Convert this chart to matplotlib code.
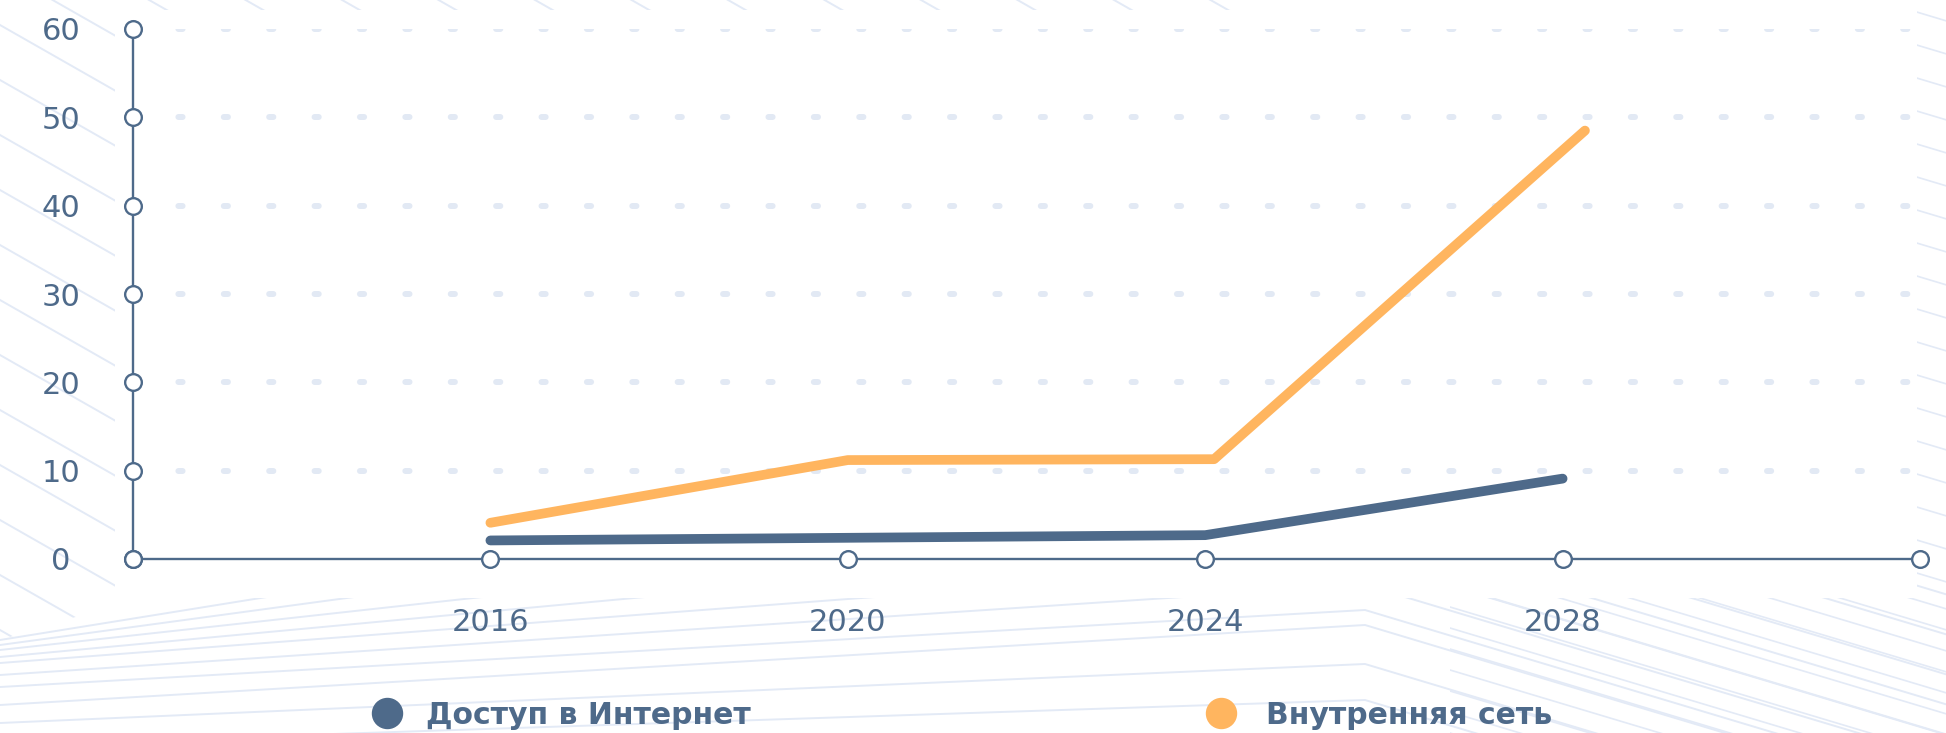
import matplotlib
matplotlib.use('Agg')
import matplotlib.pyplot as plt
from matplotlib.patches import Rectangle, Polygon
import numpy as np

# data
years = [2016, 2020, 2024, 2028]
internet = [2.1, 2.4, 2.7, 9.1]
intranet_years = [2016, 2020, 2024.1, 2028.25]
intranet = [4.1, 11.2, 11.3, 48.5]
series_names = ['Доступ в Интернет', 'Внутренняя сеть']

y_ticks = [0, 10, 20, 30, 40, 50, 60]
x_ticks = [2016, 2020, 2024, 2028]
axis_marks = [2012, 2016, 2020, 2024, 2028, 2032]

palette = {"blue": "#4E6A8A",
           "orange": "#FFB55F",
           "grid": "#E2E9F4",
           "decor": "#E3EAF6"}

W, H = 1946, 733
fig = plt.figure(figsize=(W / 100, H / 100), dpi=100)
fig.patch.set_facecolor("white")

#------------------------------------------------------------------------------------------
# background decoration, in pixel coordinates
bg = fig.add_axes([0, 0, 1, 1], zorder=0)
bg.set_xlim(0, W)
bg.set_ylim(H, 0)
bg.axis('off')

clip_left = Polygon([(0, 0), (1300, 0), (1300, 10), (115, 10), (115, 605), (0, 640)],
                    closed=True, transform=bg.transData, fill=False, visible=False)
bg.add_patch(clip_left)
for c in np.arange(-800, 700, 55):
    ln, = bg.plot([0, 1400], [c, c + 0.57 * 1400], color=palette["decor"], lw=1.4)
    ln.set_clip_path(clip_left)

left_y = [640, 645, 650, 657, 663, 675, 687, 705, 723, 745, 770]
bend_y = [420, 460, 500, 530, 560, 585, 610, 625, 664, 700, 740]
for ly, by in zip(left_y, bend_y):
    bg.plot([0, 1365, 1946], [ly, by, by + 0.3 * (1946 - 1365)],
            color=palette["decor"], lw=1.4)

clip_right = Polygon([(1450, 598), (1917, 598), (1917, 0), (W, 0), (W, H), (1450, H)],
                     closed=True, transform=bg.transData, fill=False, visible=False)
bg.add_patch(clip_right)
starts = list(np.arange(1000, 1950, 70)) + list(np.arange(2000, 4100, 110))
for x0 in starts:
    ln, = bg.plot([x0 - 2500, x0 + 1000], [598 - 750, 598 + 300], color=palette["decor"], lw=1.2)
    ln.set_clip_path(clip_right)

bg.add_patch(Rectangle((115, 10), 1917 - 115, 598 - 10, facecolor="white",
                       edgecolor="none", zorder=5))

# legend
for xm, xt, name, col in [(387, 426, series_names[0], palette["blue"]),
                          (1221, 1266, series_names[1], palette["orange"])]:
    bg.plot([xm], [713], 'o', ms=21.6, color=col, zorder=6)
    bg.text(xt, 724, name, va='baseline', ha='left', fontsize=21.5,
            fontweight='bold', color=palette["blue"], zorder=6)

#------------------------------------------------------------------------------------------
# chart
ax = fig.add_axes([133 / W, (H - 559) / H, (1920 - 133) / W, (559 - 29) / H], zorder=2)
ax.patch.set_alpha(0)
ax.set_xlim(2012, 2032)
ax.set_ylim(0, 60)

for v in y_ticks[1:]:
    ax.plot([2012, 2032], [v, v], color=palette["grid"], lw=4.3,
            linestyle=(0, (0.7, 6.9)), dash_capstyle='round', zorder=1)

ax.plot(years, internet, color=palette["blue"], lw=7, solid_capstyle='round',
        solid_joinstyle='round', zorder=3)
ax.plot(intranet_years, intranet, color=palette["orange"], lw=7, solid_capstyle='round',
        solid_joinstyle='round', zorder=3)

for s in ['top', 'right']:
    ax.spines[s].set_visible(False)
for s in ['left', 'bottom']:
    ax.spines[s].set_color(palette["blue"])
    ax.spines[s].set_linewidth(1.7)

ax.plot([2012] * len(y_ticks), y_ticks, 'o', ms=12, mfc='white', mec=palette["blue"],
        mew=1.7, clip_on=False, zorder=4)
ax.plot(axis_marks, [0] * len(axis_marks), 'o', ms=12, mfc='white', mec=palette["blue"],
        mew=1.7, clip_on=False, zorder=4)

ax.set_yticks(y_ticks)
ax.set_yticklabels([str(v) for v in y_ticks], ha='center')
ax.set_xticks(x_ticks)
ax.set_xticklabels([str(v) for v in x_ticks])
ax.tick_params(axis='y', length=0, pad=52, labelsize=22, labelcolor=palette["blue"])
ax.tick_params(axis='x', length=0, pad=35, labelsize=22, labelcolor=palette["blue"])

fig.savefig("out.png", dpi=100, facecolor="white")
